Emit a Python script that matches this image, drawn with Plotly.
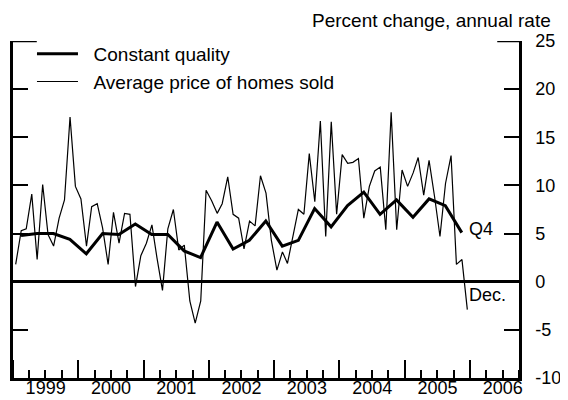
import pandas as pd
import plotly.graph_objects as go

# ---- data (percent change, annual rate) ----
avg_1999 = [1.8, 5.3, 5.5, 9.1, 2.3, 10.1, 4.9, 3.7, 6.6, 8.5, 17.1, 9.9]
avg_2000 = [8.6, 3.7, 7.8, 8.1, 5.6, 1.8, 7.2, 4.0, 7.1, 7.0, -0.5, 2.7]
avg_2001 = [4.0, 5.9, 2.5, -0.9, 5.5, 7.5, 3.3, 3.8, -2.0, -4.3, -2.0, 9.5]
avg_2002 = [8.4, 7.1, 8.1, 10.9, 7.0, 6.6, 3.4, 6.3, 5.8, 11.0, 9.2, 4.3]
avg_2003 = [1.2, 3.1, 1.9, 4.6, 7.5, 7.0, 13.3, 8.3, 16.7, 4.7, 16.6, 7.0]
avg_2004 = [13.2, 12.3, 12.4, 12.8, 6.6, 9.9, 11.5, 11.9, 5.4, 17.6, 5.4, 11.6]
avg_2005 = [9.9, 11.3, 12.9, 9.0, 12.6, 8.8, 4.7, 10.2, 13.1, 1.8, 2.3, -2.9]
avg_price = avg_1999 + avg_2000 + avg_2001 + avg_2002 + avg_2003 + avg_2004 + avg_2005

const_quality = [4.8, 5.0, 5.0, 4.4,
                 2.9, 5.0, 4.9, 6.0,
                 4.9, 4.9, 3.2, 2.5,
                 6.2, 3.4, 4.3, 6.3,
                 3.7, 4.3, 7.6, 5.7,
                 7.9, 9.3, 7.0, 8.5,
                 6.7, 8.6, 7.9, 5.1]

months = pd.date_range("1999-01-01", periods=len(avg_price), freq="MS") + pd.Timedelta(days=15)
quarters = pd.date_range("1999-01-01", periods=len(const_quality), freq="QS") + pd.Timedelta(days=45)

y_ticks = [-10, -5, 0, 5, 10, 15, 20, 25]
y_tick_text = ["-10", "-5", "0", "5", "10", "15", "20", "25"]
x_range = ["1999-01-01", "2006-10-01"]

FONT = "Liberation Sans, Arial, Helvetica, sans-serif"
GAP = "\u00a0\u00a0"  # small gap between legend sample and label

fig = go.Figure()
fig.add_trace(go.Scatter(x=quarters, y=const_quality, mode="lines",
                         name=GAP + "Constant quality",
                         line=dict(color="black", width=3)))
fig.add_trace(go.Scatter(x=months, y=avg_price, mode="lines",
                         name=GAP + "Average price of homes sold",
                         line=dict(color="black", width=1.2)))

# the page body adds an 8px offset, so margins are set to compensate
fig.update_layout(
    width=568, height=400,
    margin=dict(l=5, r=57, t=33, b=30, autoexpand=False),
    paper_bgcolor="white", plot_bgcolor="white",
    font=dict(family=FONT, size=18, color="black"),
    showlegend=True,
    legend=dict(x=0.0375, y=1.018, xanchor="left", yanchor="top",
                bgcolor="rgba(0,0,0,0)", borderwidth=0,
                font=dict(size=19), itemwidth=41),
    xaxis=dict(type="date", range=x_range, automargin=False,
               tick0="1999-01-01", dtick="M12", tickformat="%Y",
               ticklabelmode="period", ticklabelstandoff=-8,
               ticks="inside", ticklen=18, tickwidth=2, tickcolor="black",
               showline=True, linewidth=2.5, linecolor="black",
               showgrid=False, zeroline=False,
               minor=dict(dtick="M3", ticks="inside", ticklen=8,
                          tickwidth=2, tickcolor="black", showgrid=False),
               tickfont=dict(size=18)),
    yaxis=dict(range=[-10, 25], tickvals=y_ticks, ticktext=y_tick_text,
               side="right", automargin=False,
               ticks="inside", ticklen=15, tickwidth=2, tickcolor="black",
               showline=True, linewidth=2.5, linecolor="black", mirror="ticks",
               showgrid=False, zeroline=True, zerolinecolor="black",
               zerolinewidth=2.5, ticklabelstandoff=10,
               tickfont=dict(size=18)),
)

# longer ticks at the top value on both sides
fig.add_shape(type="line", xref="paper", yref="y", x0=0, x1=0.047,
              y0=y_ticks[-1], y1=y_ticks[-1], line=dict(color="black", width=2.5))
fig.add_shape(type="line", xref="paper", yref="y", x0=0.957, x1=1,
              y0=y_ticks[-1], y1=y_ticks[-1], line=dict(color="black", width=2.5))

fig.add_annotation(text="Percent change, annual rate", xref="paper", yref="paper",
                   x=1.067, y=1.062, xanchor="right", yanchor="middle",
                   showarrow=False, font=dict(size=19))
fig.add_annotation(text="Q4", x=quarters[-1], y=const_quality[-1],
                   xanchor="left", yanchor="middle", xshift=5, yshift=4,
                   showarrow=False, font=dict(size=18))
fig.add_annotation(text="Dec.", x=months[-1], y=avg_price[-1],
                   xanchor="left", yanchor="middle", xshift=0, yshift=15,
                   showarrow=False, font=dict(size=18))

fig.write_html("out.html")
